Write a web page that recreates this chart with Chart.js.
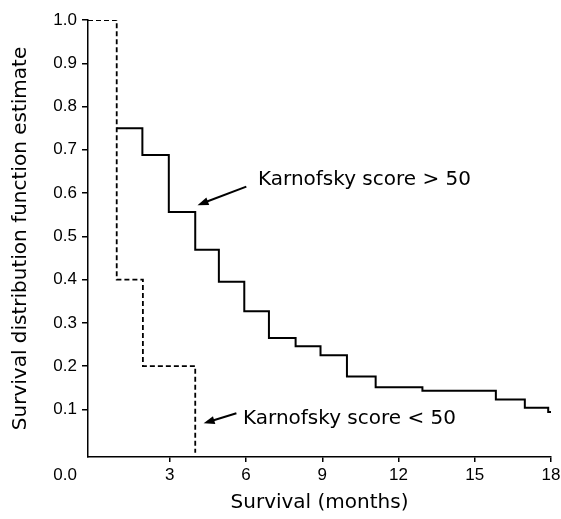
<!DOCTYPE html>
<html>
<head>
<meta charset="utf-8">
<script src="https://cdn.jsdelivr.net/npm/chart.js@4.4.1/dist/chart.umd.min.js"></script>
<style>
  html, body { margin: 0; padding: 0; background: #fff; }
</style>
</head>
<body>
<canvas id="km" width="561" height="519"></canvas>
<script>
// Karnofsky score < 50 (dashed)
const lowTimes = [-0.22, 0.91, 1.94, 4.0];
const lowSurvival = [1.0, 0.4, 0.2, 0.0];

// Karnofsky score > 50 (solid)
const highTimes = [0.91, 1.92, 2.96, 4.0, 4.93, 5.93, 6.9, 7.95, 8.93, 9.97, 11.1, 12.94, 15.83, 16.97, 17.89, 18.0];
const highSurvival = [0.75, 0.688, 0.556, 0.469, 0.395, 0.327, 0.265, 0.246, 0.225, 0.176, 0.151, 0.143, 0.123, 0.104, 0.094, 0.094];

const xTickValues = [3, 6, 9, 12, 15, 18];
const yTickValues = [0.1, 0.2, 0.3, 0.4, 0.5, 0.6, 0.7, 0.8, 0.9, 1.0];

// labels with arrows, in data units
const notes = [
  { text: "Karnofsky score > 50", at: [6.47, 0.619], from: [6.01, 0.615], to: [4.09, 0.572] },
  { text: "Karnofsky score < 50", at: [5.88, 0.066], from: [5.62, 0.091], to: [4.33, 0.068] },
];

const FONT = '"DejaVu Sans", sans-serif';
const TICK_FONT = '"Liberation Sans", Arial, sans-serif';
const TICK_SIZE = 17;

function toPoints(xs, ys) {
  return xs.map((t, i) => ({ x: t, y: ys[i] }));
}

function drawArrow(ctx, x0, y0, x1, y1) {
  const ang = Math.atan2(y1 - y0, x1 - x0);
  const len = 11, half = 4;
  ctx.lineWidth = 2;
  ctx.beginPath();
  ctx.moveTo(x0, y0);
  ctx.lineTo(x1 - Math.cos(ang) * len * 0.8, y1 - Math.sin(ang) * len * 0.8);
  ctx.stroke();
  ctx.beginPath();
  ctx.moveTo(x1, y1);
  ctx.lineTo(x1 - Math.cos(ang) * len - Math.sin(ang) * half, y1 - Math.sin(ang) * len + Math.cos(ang) * half);
  ctx.lineTo(x1 - Math.cos(ang) * len + Math.sin(ang) * half, y1 - Math.sin(ang) * len - Math.cos(ang) * half);
  ctx.closePath();
  ctx.fill();
}

const notesPlugin = {
  id: "notes",
  afterDatasetsDraw(chart) {
    const { ctx } = chart;
    const xs = chart.scales.x, ys = chart.scales.y;
    ctx.save();
    ctx.fillStyle = "#000";
    ctx.strokeStyle = "#000";
    notes.forEach((n) => {
      drawArrow(ctx,
        xs.getPixelForValue(n.from[0]), ys.getPixelForValue(n.from[1]),
        xs.getPixelForValue(n.to[0]), ys.getPixelForValue(n.to[1]));
      ctx.font = "20px " + FONT;
      ctx.textAlign = "left";
      ctx.textBaseline = "alphabetic";
      ctx.fillText(n.text, xs.getPixelForValue(n.at[0]), ys.getPixelForValue(n.at[1]));
    });
    // origin label sits on the x tick row, under the y labels
    ctx.font = TICK_SIZE + "px " + TICK_FONT;
    ctx.textAlign = "right";
    ctx.textBaseline = "middle";
    ctx.fillText("0.0", ys.right - 6 - 5, xs.top + 5 + 3 + TICK_SIZE * 0.6);
    ctx.restore();
  },
};

new Chart(document.getElementById("km"), {
  type: "line",
  data: {
    datasets: [
      {
        label: "Karnofsky score > 50",
        data: toPoints(highTimes, highSurvival),
        stepped: "before",
        borderColor: "#000",
        borderWidth: 2,
        pointRadius: 0,
        fill: false,
      },
      {
        label: "Karnofsky score < 50",
        data: toPoints(lowTimes, lowSurvival),
        stepped: "before",
        borderColor: "#000",
        borderWidth: 1.8,
        borderDash: [5, 3],
        pointRadius: 0,
        fill: false,
      },
    ],
  },
  options: {
    responsive: false,
    devicePixelRatio: 1,
    animation: false,
    layout: { padding: { left: 0, right: 10, top: 20, bottom: 0 } },
    plugins: {
      legend: { display: false },
      tooltip: { enabled: false },
    },
    scales: {
      x: {
        type: "linear",
        min: -0.22,
        max: 18,
        afterBuildTicks: (s) => { s.ticks = xTickValues.map((v) => ({ value: v })); },
        afterFit: (s) => { s.height = 62; s.paddingLeft = 0; s.paddingRight = 0; },
        ticks: {
          color: "#000",
          padding: 3,
          font: { family: TICK_FONT, size: TICK_SIZE },
          callback: (v) => String(v),
        },
        grid: { drawOnChartArea: false, tickLength: 5, color: "#000", lineWidth: 1.5 },
        border: { display: true, color: "#000", width: 1.5 },
        title: {
          display: true,
          text: "Survival (months)",
          color: "#000",
          font: { family: FONT, size: 20 },
          padding: { top: 0, bottom: 4 },
        },
      },
      y: {
        type: "linear",
        min: -0.01,
        max: 1.0,
        afterBuildTicks: (s) => { s.ticks = yTickValues.map((v) => ({ value: v })); },
        afterFit: (s) => { s.width = 88; s.paddingTop = 0; s.paddingBottom = 0; },
        ticks: {
          color: "#000",
          padding: 5,
          font: { family: TICK_FONT, size: TICK_SIZE },
          callback: (v) => v.toFixed(1),
        },
        grid: { drawOnChartArea: false, tickLength: 6, color: "#000", lineWidth: 1.5 },
        border: { display: true, color: "#000", width: 1.5 },
        title: {
          display: true,
          text: "Survival distribution function estimate",
          color: "#000",
          font: { family: FONT, size: 20 },
          padding: { top: 9, bottom: 0 },
        },
      },
    },
  },
  plugins: [notesPlugin],
});
</script>
</body>
</html>
